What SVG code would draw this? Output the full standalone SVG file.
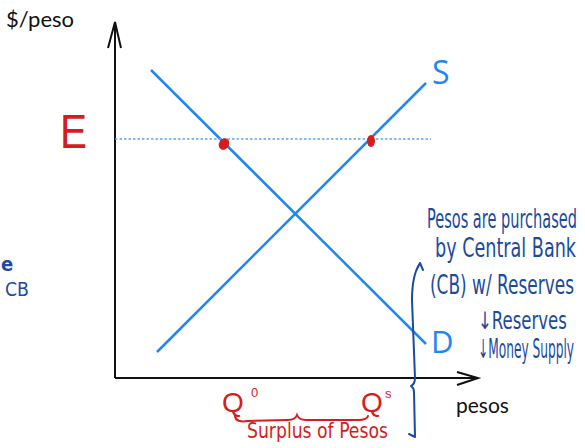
<svg xmlns="http://www.w3.org/2000/svg" width="585" height="448" viewBox="0 0 585 448">
<style>
.ax{stroke:#111;stroke-width:2;fill:none}
.curve{stroke:#1e88f0;stroke-width:2.5;fill:none}
.lbl{font-family:Lato,"Open Sans",sans-serif;fill:#111}
.cl{font-family:"Open Sans",sans-serif;fill:#1e88f0}
.red{font-family:"DejaVu Sans Condensed","Liberation Sans",sans-serif;fill:#d61c1c}
.q{font-family:"Liberation Sans",sans-serif;fill:#d61c1c}
.note{font-family:"DejaVu Sans Condensed","Liberation Sans",sans-serif;fill:#1b4a9e}
.rs{stroke:#d61c1c;stroke-width:2;fill:none;stroke-linecap:round}
.bs{stroke:#1b4a9e;stroke-width:2;fill:none;stroke-linecap:round;stroke-linejoin:round}
</style>
<rect width="585" height="448" fill="#fff"/>
<g id="axes">
<path class="ax" d="M115,378 V22 M108,48 L115,22 L121,48"/>
<path class="ax" d="M115,378 H478 M457,372 L478,378 L457,385"/>
<text class="lbl" x="6" y="27" font-size="22">$/peso</text>
<text class="lbl" x="456" y="413" font-size="21">pesos</text>
</g>
<g id="connectors">
<line class="curve" x1="151" y1="70" x2="426" y2="344"/>
<line class="curve" x1="157" y1="352" x2="426" y2="83"/>
<line x1="115" y1="139" x2="431" y2="139" stroke="#5aa6f5" stroke-width="1.5" stroke-dasharray="2.5,2"/>
</g>
<g id="labels">
<text class="cl" x="432" y="84" font-size="32">S</text>
<text class="cl" x="431" y="353" font-size="31">D</text>
<text class="q" x="60" y="148" font-size="48" textLength="27" lengthAdjust="spacingAndGlyphs">E</text>
</g>
<g id="points">
<ellipse cx="224" cy="144" rx="5" ry="6" fill="#d61c1c" transform="rotate(30 224 144)"/>
<ellipse cx="371" cy="141" rx="4" ry="6" fill="#d61c1c"/>
</g>
<g id="surplus">
<text class="q" x="222" y="412" font-size="28">Q</text>
<text class="q" x="251" y="397" font-size="13">0</text>
<text class="q" x="361" y="412" font-size="28">Q</text>
<text class="q" x="385" y="398" font-size="13">s</text>
<path class="rs" d="M235,416 Q236,423 248,421 L288,420 Q295,420 297,415 Q299,420 306,420 L358,420 Q367,420 368,416"/>
<text class="red" x="247" y="438" font-size="21" textLength="141" lengthAdjust="spacingAndGlyphs">Surplus of Pesos</text>
</g>
<g id="note">
<path class="bs" d="M415,437 L409,434 M415,437 L414,392 Q414,388 411,386 Q415,384 415,378 L412,300 Q412,275 420,263 M416,271 L420,263 L423,270"/>
<text class="note" transform="translate(427,228) scale(0.6,1)" font-size="26" textLength="250" lengthAdjust="spacingAndGlyphs">Pesos are purchased</text>
<text class="note" transform="translate(435,257) scale(0.6,1)" font-size="26" textLength="235" lengthAdjust="spacingAndGlyphs">by Central Bank</text>
<text class="note" transform="translate(430,294) scale(0.6,1)" font-size="26" textLength="240" lengthAdjust="spacingAndGlyphs">(CB) w/ Reserves</text>
<text class="note" transform="translate(478,329) scale(0.6,1)" font-size="24" textLength="148" lengthAdjust="spacingAndGlyphs">↓Reserves</text>
<text class="note" transform="translate(478,358) scale(1,1.85)" font-size="14" textLength="96" lengthAdjust="spacingAndGlyphs">↓Money Supply</text>
</g>
<g id="edge">
<text class="note" x="1" y="271" font-size="20" font-weight="bold">e</text>
<text class="note" x="5" y="296" font-size="19" textLength="24" lengthAdjust="spacingAndGlyphs">CB</text>
</g>
</svg>
